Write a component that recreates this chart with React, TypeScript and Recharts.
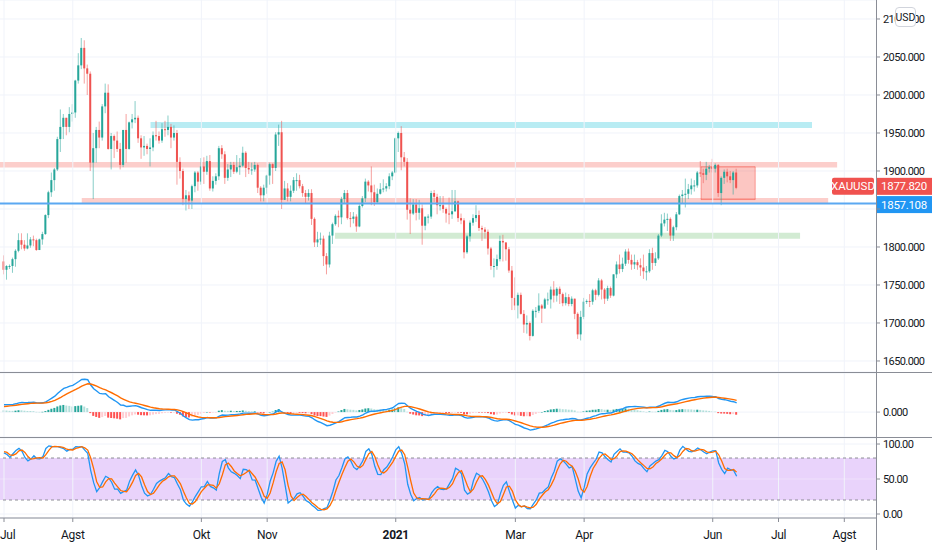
import React from 'react'
import {
  ComposedChart, Bar, Line, XAxis, YAxis, CartesianGrid, ReferenceArea, ReferenceLine,
} from 'recharts'

type Ohlc = [number, number, number, number] // open, high, low, close

// May 2020 closes, only used to warm up the MACD averages
const MAY_2020_CLOSES = [1700, 1702, 1705, 1686, 1725, 1702, 1697, 1701, 1715, 1730, 1743, 1731, 1745, 1747, 1725, 1735, 1729, 1709, 1708, 1719, 1729]

// June 2020 bars, warm-up for MACD and stochastic (not drawn)
const JUN_2020: Ohlc[] = [
  [1730, 1745, 1725, 1740], [1740, 1744, 1722, 1727], [1727, 1730, 1694, 1699], [1699, 1718, 1693, 1714], [1714, 1720, 1670, 1685],
  [1685, 1700, 1680, 1698], [1698, 1720, 1694, 1715], [1715, 1740, 1710, 1737], [1737, 1745, 1720, 1727], [1727, 1741, 1722, 1730],
  [1730, 1734, 1704, 1725], [1725, 1736, 1713, 1727], [1727, 1733, 1720, 1727], [1727, 1736, 1717, 1722], [1722, 1745, 1720, 1743],
  [1743, 1756, 1740, 1754], [1754, 1770, 1750, 1768], [1768, 1779, 1757, 1762], [1762, 1767, 1750, 1763], [1763, 1772, 1757, 1771],
  [1771, 1775, 1762, 1772], [1772, 1786, 1768, 1781],
]

const JUL_2020: Ohlc[] = [
  [1781, 1789, 1764, 1770], [1770, 1776, 1757, 1775], [1775, 1777, 1771, 1775], [1775, 1786, 1766, 1784], [1784, 1797, 1774, 1795],
  [1795, 1818, 1793, 1809], [1809, 1818, 1797, 1803], [1803, 1809, 1795, 1798], [1798, 1818, 1797, 1802], [1802, 1813, 1799, 1810],
  [1810, 1815, 1801, 1809], [1809, 1811, 1795, 1796], [1796, 1811, 1796, 1810], [1810, 1820, 1803, 1817], [1817, 1843, 1816, 1842],
  [1842, 1874, 1838, 1872], [1872, 1898, 1866, 1888], [1888, 1904, 1874, 1902], [1902, 1945, 1900, 1942], [1942, 1981, 1925, 1958],
  [1958, 1975, 1942, 1970], [1970, 1970, 1947, 1958], [1958, 1984, 1951, 1975],
]
const AUG_2020: Ohlc[] = [
  [1975, 1988, 1965, 1977], [1977, 2020, 1970, 2019], [2019, 2055, 2015, 2039], [2039, 2075, 2034, 2062], [2062, 2072, 2015, 2035],
  [2035, 2040, 2000, 2028], [2028, 2031, 1900, 1911], [1911, 1950, 1863, 1930], [1930, 1958, 1911, 1954], [1954, 1965, 1930, 1944],
  [1944, 1988, 1940, 1985], [1985, 2015, 1976, 2003], [2003, 2014, 1928, 1929], [1929, 1950, 1902, 1946], [1946, 1948, 1917, 1940],
  [1940, 1952, 1925, 1929], [1929, 1937, 1902, 1908], [1908, 1954, 1905, 1954], [1954, 1975, 1911, 1929], [1929, 1965, 1928, 1964],
  [1964, 1975, 1956, 1968],
]
const SEP_2020: Ohlc[] = [
  [1968, 1992, 1963, 1970], [1970, 1973, 1937, 1943], [1943, 1947, 1916, 1931], [1931, 1946, 1920, 1933], [1933, 1936, 1922, 1929],
  [1929, 1943, 1906, 1931], [1931, 1952, 1926, 1947], [1947, 1966, 1940, 1946], [1946, 1952, 1936, 1940], [1940, 1963, 1937, 1955],
  [1955, 1966, 1945, 1954], [1954, 1973, 1947, 1958], [1958, 1962, 1930, 1944], [1944, 1960, 1940, 1950], [1950, 1954, 1882, 1912],
  [1912, 1918, 1890, 1900], [1900, 1903, 1855, 1863], [1863, 1875, 1848, 1868], [1868, 1873, 1850, 1861], [1861, 1882, 1850, 1880],
  [1880, 1900, 1872, 1898], [1898, 1900, 1874, 1886],
]
const OCT_2020: Ohlc[] = [
  [1886, 1917, 1882, 1906], [1906, 1918, 1883, 1899], [1899, 1920, 1895, 1913], [1913, 1921, 1874, 1877], [1877, 1893, 1873, 1887],
  [1887, 1897, 1882, 1893], [1893, 1933, 1888, 1930], [1930, 1934, 1916, 1922], [1922, 1926, 1883, 1891], [1891, 1909, 1887, 1902],
  [1902, 1912, 1892, 1908], [1908, 1912, 1896, 1899], [1899, 1921, 1897, 1905], [1905, 1917, 1895, 1907], [1907, 1932, 1905, 1924],
  [1924, 1926, 1892, 1904], [1904, 1912, 1896, 1902], [1902, 1911, 1895, 1902], [1902, 1912, 1899, 1908], [1908, 1910, 1871, 1878],
  [1878, 1880, 1860, 1868], [1868, 1882, 1860, 1878],
]
const NOV_2020: Ohlc[] = [
  [1878, 1895, 1870, 1894], [1894, 1911, 1882, 1909], [1909, 1910, 1883, 1904], [1904, 1951, 1900, 1948], [1948, 1961, 1933, 1951],
  [1951, 1966, 1850, 1862], [1862, 1887, 1862, 1877], [1877, 1884, 1860, 1866], [1866, 1881, 1860, 1874], [1874, 1892, 1871, 1888],
  [1888, 1897, 1874, 1888], [1888, 1895, 1877, 1880], [1880, 1883, 1866, 1871], [1871, 1875, 1857, 1866], [1866, 1876, 1861, 1871],
  [1871, 1876, 1829, 1837], [1837, 1839, 1800, 1806], [1806, 1820, 1800, 1810], [1810, 1819, 1803, 1811], [1811, 1815, 1775, 1788],
  [1788, 1792, 1764, 1777],
]
const DEC_2020: Ohlc[] = [
  [1777, 1820, 1773, 1815], [1815, 1832, 1804, 1830], [1830, 1843, 1828, 1841], [1841, 1848, 1826, 1839], [1839, 1866, 1830, 1863],
  [1863, 1875, 1858, 1871], [1871, 1875, 1836, 1838], [1838, 1846, 1826, 1837], [1837, 1846, 1831, 1840], [1840, 1843, 1820, 1827],
  [1827, 1856, 1826, 1854], [1854, 1867, 1852, 1864], [1864, 1890, 1859, 1886], [1886, 1888, 1873, 1881], [1881, 1906, 1855, 1872],
  [1872, 1882, 1854, 1859], [1859, 1877, 1858, 1870], [1870, 1884, 1869, 1876], [1876, 1889, 1872, 1877], [1877, 1884, 1873, 1880],
  [1880, 1897, 1876, 1893], [1893, 1900, 1888, 1898],
]
const JAN_2021: Ohlc[] = [
  [1898, 1944, 1897, 1943], [1943, 1952, 1925, 1950], [1950, 1959, 1901, 1918], [1918, 1925, 1906, 1912], [1912, 1917, 1836, 1849],
  [1849, 1864, 1817, 1844], [1844, 1863, 1842, 1856], [1856, 1863, 1835, 1845], [1845, 1862, 1836, 1851], [1851, 1856, 1803, 1828],
  [1828, 1838, 1822, 1840], [1840, 1843, 1831, 1840], [1840, 1874, 1837, 1871], [1871, 1875, 1859, 1866], [1866, 1870, 1843, 1855],
  [1855, 1867, 1848, 1855], [1855, 1867, 1845, 1850], [1850, 1852, 1832, 1844], [1844, 1865, 1830, 1843], [1843, 1875, 1837, 1847],
]
const FEB_2021: Ohlc[] = [
  [1847, 1875, 1846, 1860], [1860, 1861, 1833, 1838], [1838, 1844, 1830, 1835], [1835, 1838, 1785, 1793], [1793, 1816, 1791, 1814],
  [1814, 1835, 1807, 1832], [1832, 1843, 1828, 1838], [1838, 1855, 1833, 1842], [1842, 1848, 1821, 1825], [1825, 1828, 1808, 1823],
  [1823, 1826, 1811, 1820], [1820, 1823, 1790, 1798], [1798, 1800, 1770, 1775], [1775, 1785, 1760, 1775], [1775, 1790, 1770, 1784],
  [1784, 1815, 1781, 1808], [1808, 1816, 1781, 1806], [1806, 1806, 1782, 1797], [1797, 1800, 1766, 1769], [1769, 1775, 1717, 1733],
]
const MAR_2021: Ohlc[] = [
  [1733, 1760, 1717, 1723], [1723, 1740, 1706, 1737], [1737, 1740, 1711, 1712], [1712, 1717, 1687, 1698], [1698, 1710, 1686, 1700],
  [1700, 1702, 1677, 1683], [1683, 1718, 1682, 1716], [1716, 1721, 1707, 1716], [1716, 1739, 1713, 1723], [1723, 1725, 1700, 1719],
  [1719, 1733, 1719, 1731], [1731, 1740, 1724, 1731], [1731, 1748, 1719, 1744], [1744, 1755, 1727, 1736], [1736, 1747, 1728, 1745],
  [1745, 1748, 1725, 1738], [1738, 1740, 1722, 1726], [1726, 1740, 1723, 1734], [1734, 1738, 1722, 1725], [1725, 1735, 1722, 1732],
  [1732, 1732, 1705, 1712], [1712, 1714, 1679, 1685], [1685, 1716, 1677, 1708],
]
const APR_2021: Ohlc[] = [
  [1708, 1733, 1705, 1728], [1728, 1731, 1725, 1729], [1729, 1738, 1721, 1728], [1728, 1745, 1724, 1743], [1743, 1745, 1730, 1737],
  [1737, 1759, 1735, 1756], [1756, 1758, 1731, 1744], [1744, 1746, 1725, 1732], [1732, 1749, 1729, 1746], [1746, 1748, 1733, 1736],
  [1736, 1764, 1735, 1764], [1764, 1781, 1759, 1777], [1777, 1790, 1765, 1771], [1771, 1786, 1767, 1778], [1778, 1797, 1775, 1794],
  [1794, 1798, 1778, 1783], [1783, 1790, 1770, 1777], [1777, 1790, 1771, 1780], [1780, 1783, 1770, 1776], [1776, 1785, 1762, 1773],
  [1773, 1790, 1758, 1768], [1768, 1775, 1756, 1768],
]
const MAY_2021: Ohlc[] = [
  [1768, 1797, 1766, 1792], [1792, 1799, 1770, 1779], [1779, 1793, 1775, 1785], [1785, 1817, 1783, 1815], [1815, 1843, 1813, 1831],
  [1831, 1845, 1827, 1836], [1836, 1844, 1821, 1837], [1837, 1839, 1808, 1815], [1815, 1828, 1808, 1826], [1826, 1846, 1822, 1843],
  [1843, 1869, 1842, 1867], [1867, 1875, 1857, 1869], [1869, 1890, 1852, 1870], [1870, 1883, 1863, 1876], [1876, 1890, 1869, 1881],
  [1881, 1888, 1873, 1881], [1881, 1900, 1878, 1898], [1898, 1913, 1892, 1897], [1897, 1903, 1884, 1895], [1895, 1912, 1888, 1903],
  [1903, 1908, 1898, 1905],
]
const JUN_2021: Ohlc[] = [
  [1905, 1916, 1898, 1903], [1903, 1910, 1898, 1908], [1908, 1909, 1866, 1871], [1871, 1893, 1855, 1891], [1891, 1902, 1883, 1899],
  [1899, 1903, 1885, 1893], [1893, 1900, 1884, 1888], [1888, 1900, 1869, 1898], [1898, 1903, 1876, 1877.82],
]

const MONTH_TICKS = [0, 23, 66, 88, 131, 171, 194, 237, 259, 281]
const MONTH_LABELS = ['Jul', 'Agst', 'Okt', 'Nov', '2021', 'Mar', 'Apr', 'Jun', 'Jul', 'Agst']
const PRICE_TICKS = [1650, 1700, 1750, 1800, 1850, 1900, 1950, 2000, 2050, 2100]
// scale labels hidden behind the price tags
const HIDDEN_PRICE_LABELS = [1850]
const MACD_TICKS = [0]
const STOCH_TICKS = [0, 50, 100]

const LAST_PRICE = 1877.82
const HLINE_PRICE = 1857.108

// drawings: bar index range and price range
const RESIST_ZONE = { from: 49, to: 270.2, hi: 1964.5, lo: 1956.6 }
const UPPER_ZONE = { from: -1.34, to: 278.6, hi: 1911.8, lo: 1904.7 }
const LOWER_ZONE = { from: 26, to: 275.6, hi: 1864.5, lo: 1857.5 }
const SUPPORT_ZONE = { from: 110.7, to: 266.2, hi: 1818.7, lo: 1810.8 }
const RANGE_BOX = { from: 233.1, to: 251.2, hi: 1905.6, lo: 1862.4 }

const X_DOMAIN = [-1.34, 291.6]

const UP = '#26A69A'
const DOWN = '#EF5350'
const TEXT = '#131722'
const GRID = '#F0F3FA'
const FRAME = '#8A8D96'

// ---- indicators (same formulas the chart uses: MACD 12/26/9, Stoch 14/3/3) ----
const MAIN: Ohlc[] = [
  ...JUL_2020, ...AUG_2020, ...SEP_2020, ...OCT_2020, ...NOV_2020, ...DEC_2020,
  ...JAN_2021, ...FEB_2021, ...MAR_2021, ...APR_2021, ...MAY_2021, ...JUN_2021,
]
const ALL: Ohlc[] = [...JUN_2020, ...MAIN]

const ema = (src: number[], n: number) => {
  const k = 2 / (n + 1)
  const out: number[] = []
  src.forEach((v, i) => out.push(i === 0 ? v : v * k + out[i - 1] * (1 - k)))
  return out
}
const sma = (src: number[], n: number) =>
  src.map((_, i) => {
    const w = src.slice(Math.max(0, i - n + 1), i + 1)
    return w.reduce((a, b) => a + b, 0) / w.length
  })

const closes = [...MAY_2020_CLOSES, ...ALL.map((b) => b[3])]
const fast = ema(closes, 12)
const slow = ema(closes, 26)
const macdAll = closes.map((_, i) => fast[i] - slow[i])
const signalAll = ema(macdAll, 9)
const histAll = macdAll.map((m, i) => m - signalAll[i])
const macdOff = closes.length - MAIN.length

const rawK = ALL.map((b, i) => {
  const w = ALL.slice(Math.max(0, i - 13), i + 1)
  const hh = Math.max(...w.map((x) => x[1]))
  const ll = Math.min(...w.map((x) => x[2]))
  return hh === ll ? 50 : (100 * (b[3] - ll)) / (hh - ll)
})
const kAll = sma(rawK, 3)
const dAll = sma(kAll, 3)
const stochOff = JUN_2020.length

const histColor = (i: number) => {
  const h = histAll[i]
  const prev = histAll[i - 1]
  if (h >= 0) return h > prev ? '#26A69A' : '#B2DFDB'
  return h < prev ? '#FF5252' : '#FFCDD2'
}

const rows = MAIN.map((b, i) => ({
  i,
  o: b[0], h: b[1], l: b[2], c: b[3],
  range: [b[2], b[1]],
  macd: macdAll[i + macdOff],
  signal: signalAll[i + macdOff],
  hist: histAll[i + macdOff],
  histFill: histColor(i + macdOff),
  k: kAll[i + stochOff],
  d: dAll[i + stochOff],
}))

const Candle = (p: any) => {
  const { x, y, width, height, payload } = p
  if (!payload) return null
  const top = Math.min(y, y + height)
  const span = Math.abs(height)
  const { o, h, l, c } = payload
  const pix = (v: number) => top + (h === l ? 0 : ((h - v) / (h - l)) * span)
  const up = c >= o
  const bTop = pix(Math.max(o, c))
  const bBot = pix(Math.min(o, c))
  const cx = x + width / 2
  return (
    <g>
      <line x1={cx} x2={cx} y1={top} y2={top + span} stroke={up ? 'rgba(38,166,154,0.55)' : 'rgba(239,83,80,0.55)'} strokeWidth={1} />
      <rect x={x} y={bTop} width={width} height={Math.max(1, bBot - bTop)} fill={up ? UP : DOWN} />
    </g>
  )
}

const HistBar = (p: any) => {
  const { x, y, width, height, payload } = p
  if (!payload) return null
  return <rect x={x} y={Math.min(y, y + height)} width={width} height={Math.max(0.5, Math.abs(height))} fill={payload.histFill} />
}

// price tags on the scale; shift nudges overlapping tags apart like the terminal does
const priceTag = (text: string, fill: string, shift: number, name?: string) => (props: any) => {
  const vb = props.viewBox
  if (!vb) return null
  const right = vb.x + vb.width
  const cy = vb.y + shift
  return (
    <g>
      {name && (
        <g>
          <rect x={right - 44} y={cy - 8.5} width={42} height={17} rx={2} fill={fill} />
          <text x={right - 23} y={cy + 4} textAnchor="middle" fontSize={11.5} fill="#fff">{name}</text>
        </g>
      )}
      <rect x={right} y={cy - 8.5} width={56} height={17} fill={fill} />
      <text x={right + 28} y={cy + 4} textAnchor="middle" fontSize={11.5} letterSpacing={-0.3} fill="#fff">{text}</text>
    </g>
  )
}

const MonthTick = (p: any) => {
  const { x, y, payload } = p
  const label = MONTH_LABELS[MONTH_TICKS.indexOf(payload.value)]
  const atEdge = x < 10
  return (
    <text
      x={atEdge ? 0 : x} y={y} dy={15} textAnchor={atEdge ? 'start' : 'middle'}
      fontSize={12} letterSpacing={-0.3} fill={TEXT} fontWeight={label === '2021' ? 700 : 400}
    >
      {label}
    </text>
  )
}

const monthLines = MONTH_TICKS.map((t) => (
  <ReferenceLine key={'m' + t} x={t} stroke={GRID} strokeWidth={1} ifOverflow="hidden" />
))

const zone = (z: { from: number; to: number; hi: number; lo: number }, fill: string, key: string, stroke?: string) => (
  <ReferenceArea key={key} x1={z.from} x2={z.to} y1={z.lo} y2={z.hi} fill={fill} fillOpacity={1} stroke={stroke ?? 'none'} ifOverflow="hidden" />
)

const yAxisProps = {
  orientation: 'right' as const,
  width: 56,
  axisLine: false,
  tickSize: 4,
  tickMargin: 3,
  tickLine: { stroke: FRAME },
  tick: { fill: TEXT, fontSize: 11, letterSpacing: -0.6 },
  allowDataOverflow: true,
  interval: 0 as const,
}

export default function App() {
  return (
    <div style={{ position: 'absolute', left: 0, top: 0, width: 932, height: 550, background: '#fff', fontFamily: 'Roboto, "Liberation Sans", sans-serif', overflow: 'hidden' }}>
      <div style={{ position: 'absolute', left: 0, top: 0 }}>
        <ComposedChart width={932} height={372} data={rows} margin={{ top: 0, right: 0, left: 0, bottom: 0 }}>
          <CartesianGrid vertical={false} stroke={GRID} />
          <XAxis type="number" dataKey="i" domain={X_DOMAIN} allowDataOverflow hide />
          <YAxis
            {...yAxisProps} domain={[1635.5, 2125]} ticks={PRICE_TICKS}
            tickFormatter={(v: number) => (HIDDEN_PRICE_LABELS.includes(v) ? '' : v.toFixed(3))}
          />
          {monthLines}
          {zone(RESIST_ZONE, 'rgba(0,188,212,0.28)', 'z1')}
          {zone(UPPER_ZONE, 'rgba(244,67,54,0.26)', 'z2')}
          {zone(LOWER_ZONE, 'rgba(244,67,54,0.26)', 'z3')}
          {zone(SUPPORT_ZONE, 'rgba(76,175,80,0.25)', 'z4')}
          <Bar dataKey="range" barSize={2} shape={Candle} isAnimationActive={false} />
          {zone(RANGE_BOX, 'rgba(244,67,54,0.3)', 'z5', 'rgba(244,67,54,0.45)')}
          <ReferenceLine y={HLINE_PRICE} stroke="#5AA8F2" strokeWidth={2} label={priceTag(HLINE_PRICE.toFixed(3), '#2196F3', 1)} />
          <ReferenceLine y={LAST_PRICE} stroke="none" label={priceTag(LAST_PRICE.toFixed(3), '#F0524F', -1.5, 'XAUUSD')} />
        </ComposedChart>
      </div>

      <div style={{ position: 'absolute', left: 0, top: 373 }}>
        <ComposedChart width={932} height={64} data={rows} margin={{ top: 0, right: 0, left: 0, bottom: 0 }}>
          <CartesianGrid vertical={false} stroke={GRID} />
          <XAxis type="number" dataKey="i" domain={X_DOMAIN} allowDataOverflow hide />
          <YAxis {...yAxisProps} domain={[-51, 80]} ticks={MACD_TICKS} tickFormatter={(v: number) => v.toFixed(3)} />
          {monthLines}
          <Bar dataKey="hist" barSize={2} shape={HistBar} isAnimationActive={false} />
          <Line dataKey="macd" type="linear" stroke="#2196F3" strokeWidth={1.4} dot={false} activeDot={false} isAnimationActive={false} />
          <Line dataKey="signal" type="linear" stroke="#FF6D00" strokeWidth={1.4} dot={false} activeDot={false} isAnimationActive={false} />
        </ComposedChart>
      </div>

      <div style={{ position: 'absolute', left: 0, top: 438 }}>
        <ComposedChart width={932} height={112} data={rows} margin={{ top: 0, right: 0, left: 0, bottom: 0 }}>
          <CartesianGrid vertical={false} stroke={GRID} />
          <XAxis
            type="number" dataKey="i" domain={X_DOMAIN} allowDataOverflow height={32}
            ticks={MONTH_TICKS} interval={0} tick={MonthTick} tickSize={4}
            axisLine={{ stroke: FRAME }} tickLine={{ stroke: FRAME }}
          />
          <YAxis {...yAxisProps} domain={[-5.7, 108.6]} ticks={STOCH_TICKS} tickFormatter={(v: number) => v.toFixed(2)} />
          {monthLines}
          <ReferenceArea y1={20} y2={80} fill="#E9D3FB" fillOpacity={1} stroke="none" />
          <ReferenceLine y={80} stroke="#8E8E96" strokeDasharray="3 3" />
          <ReferenceLine y={20} stroke="#8E8E96" strokeDasharray="3 3" />
          <ReferenceLine y={50} stroke="rgba(255,255,255,0.35)" />
          <Line dataKey="k" type="linear" stroke="#2196F3" strokeWidth={1.3} dot={false} activeDot={false} isAnimationActive={false} />
          <Line dataKey="d" type="linear" stroke="#FF6D00" strokeWidth={1.3} dot={false} activeDot={false} isAnimationActive={false} />
        </ComposedChart>
      </div>

      {/* pane separators and price-scale border */}
      <div style={{ position: 'absolute', left: 0, top: 372, width: 932, height: 1, background: FRAME }} />
      <div style={{ position: 'absolute', left: 0, top: 437, width: 932, height: 1, background: FRAME }} />
      <div style={{ position: 'absolute', left: 876, top: 0, width: 1, height: 550, background: FRAME }} />

      <div style={{ position: 'absolute', left: 895, top: 7, width: 21, height: 20, background: '#fff', border: '1px solid #D1D4DC', borderRadius: 4, fontSize: 10.5, color: TEXT, display: 'flex', alignItems: 'center', justifyContent: 'center', boxSizing: 'border-box' }}>
        USD
      </div>
    </div>
  )
}
